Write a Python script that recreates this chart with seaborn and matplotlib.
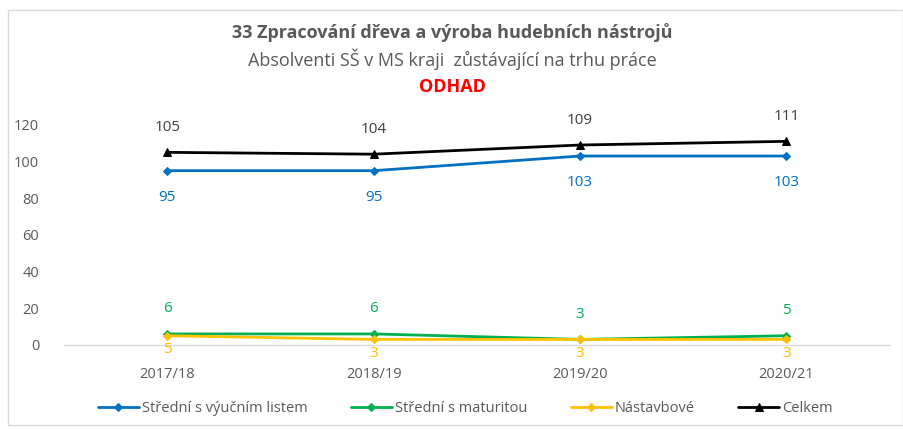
import matplotlib
matplotlib.use("Agg")
import matplotlib.pyplot as plt
import seaborn as sns
import pandas as pd
from matplotlib.patches import Rectangle
from matplotlib import font_manager

years = ["2017/18", "2018/19", "2019/20", "2020/21"]
vyucni = [95, 95, 103, 103]
maturita = [6, 6, 3, 5]
nastavbove = [5, 3, 3, 3]
celkem = [105, 104, 109, 111]
series_names = ["Střední s výučním listem", "Střední s maturitou", "Nástavbové", "Celkem"]
yticks = [0, 20, 40, 60, 80, 100, 120]

sns.set_theme(style="white")
avail = {f.name for f in font_manager.fontManager.ttflist}
fam = [f for f in ["Liberation Sans Narrow", "Open Sans", "DejaVu Sans"] if f in avail]
plt.rcParams["font.family"] = fam

colors = ["#0070C0", "#00B050", "#FFC000", "#000000"]
markers = ["D", "D", "D", "^"]
msizes = [4, 4, 4, 6]
label_off = [-19, 18, -10, 18]

rows = []
for name, vals in zip(series_names, [vyucni, maturita, nastavbove, celkem]):
    for y, v in zip(years, vals):
        rows.append({"rok": y, "hodnota": v, "typ": name})
df = pd.DataFrame(rows)

fig = plt.figure(figsize=(9.04, 4.29), dpi=100)
ax = fig.add_axes([0.071, 0.196, 0.913, 0.513])

for i, name in enumerate(series_names):
    sub = df[df["typ"] == name]
    sns.lineplot(data=sub, x="rok", y="hodnota", ax=ax, color=colors[i],
                 marker=markers[i], markersize=msizes[i], markeredgecolor=colors[i],
                 linewidth=2.0, label=name, sort=False)
    for xi, v in enumerate(sub["hodnota"]):
        txtc = "#404040" if name == "Celkem" else colors[i]
        ax.annotate(str(v), (xi, v), xytext=(0, label_off[i]), textcoords="offset points",
                    ha="center", va="center", fontsize=11, color=txtc)

ax.set_xlim(-0.5, 3.5)
ax.set_ylim(0, 120)
ax.set_yticks(yticks)
ax.set_xlabel("")
ax.set_ylabel("")
for s in ["top", "right", "left"]:
    ax.spines[s].set_visible(False)
ax.spines["bottom"].set_color("#D9D9D9")
ax.spines["bottom"].set_linewidth(1)
ax.tick_params(axis="both", colors="#595959", labelsize=10.5, length=0)
ax.tick_params(axis="x", pad=16)
ax.tick_params(axis="y", pad=18)
ax.grid(False)

leg = ax.legend(loc="center", bbox_to_anchor=(0.486, -0.29), ncol=4, frameon=False,
                fontsize=10.5, handlelength=2.8, columnspacing=3.0, handletextpad=0.2)
for t in leg.get_texts():
    t.set_color("#595959")

fig.text(0.5, 0.925, "33 Zpracování dřeva a výroba hudebních nástrojů", ha="center",
         va="center", fontsize=13, fontweight="bold", color="#595959")
fig.text(0.5, 0.862, "Absolventi SŠ v MS kraji  zůstávající na trhu práce", ha="center",
         va="center", fontsize=13, color="#595959")
fig.text(0.5, 0.798, "ODHAD", ha="center", va="center", fontsize=13, fontweight="bold",
         color="#FF0000")

fig.patches.append(Rectangle((8 / 904, 4 / 429), 895 / 904, 415 / 429, transform=fig.transFigure,
                             fill=False, edgecolor="#D9D9D9", linewidth=1))

fig.savefig("out.png", dpi=100)
